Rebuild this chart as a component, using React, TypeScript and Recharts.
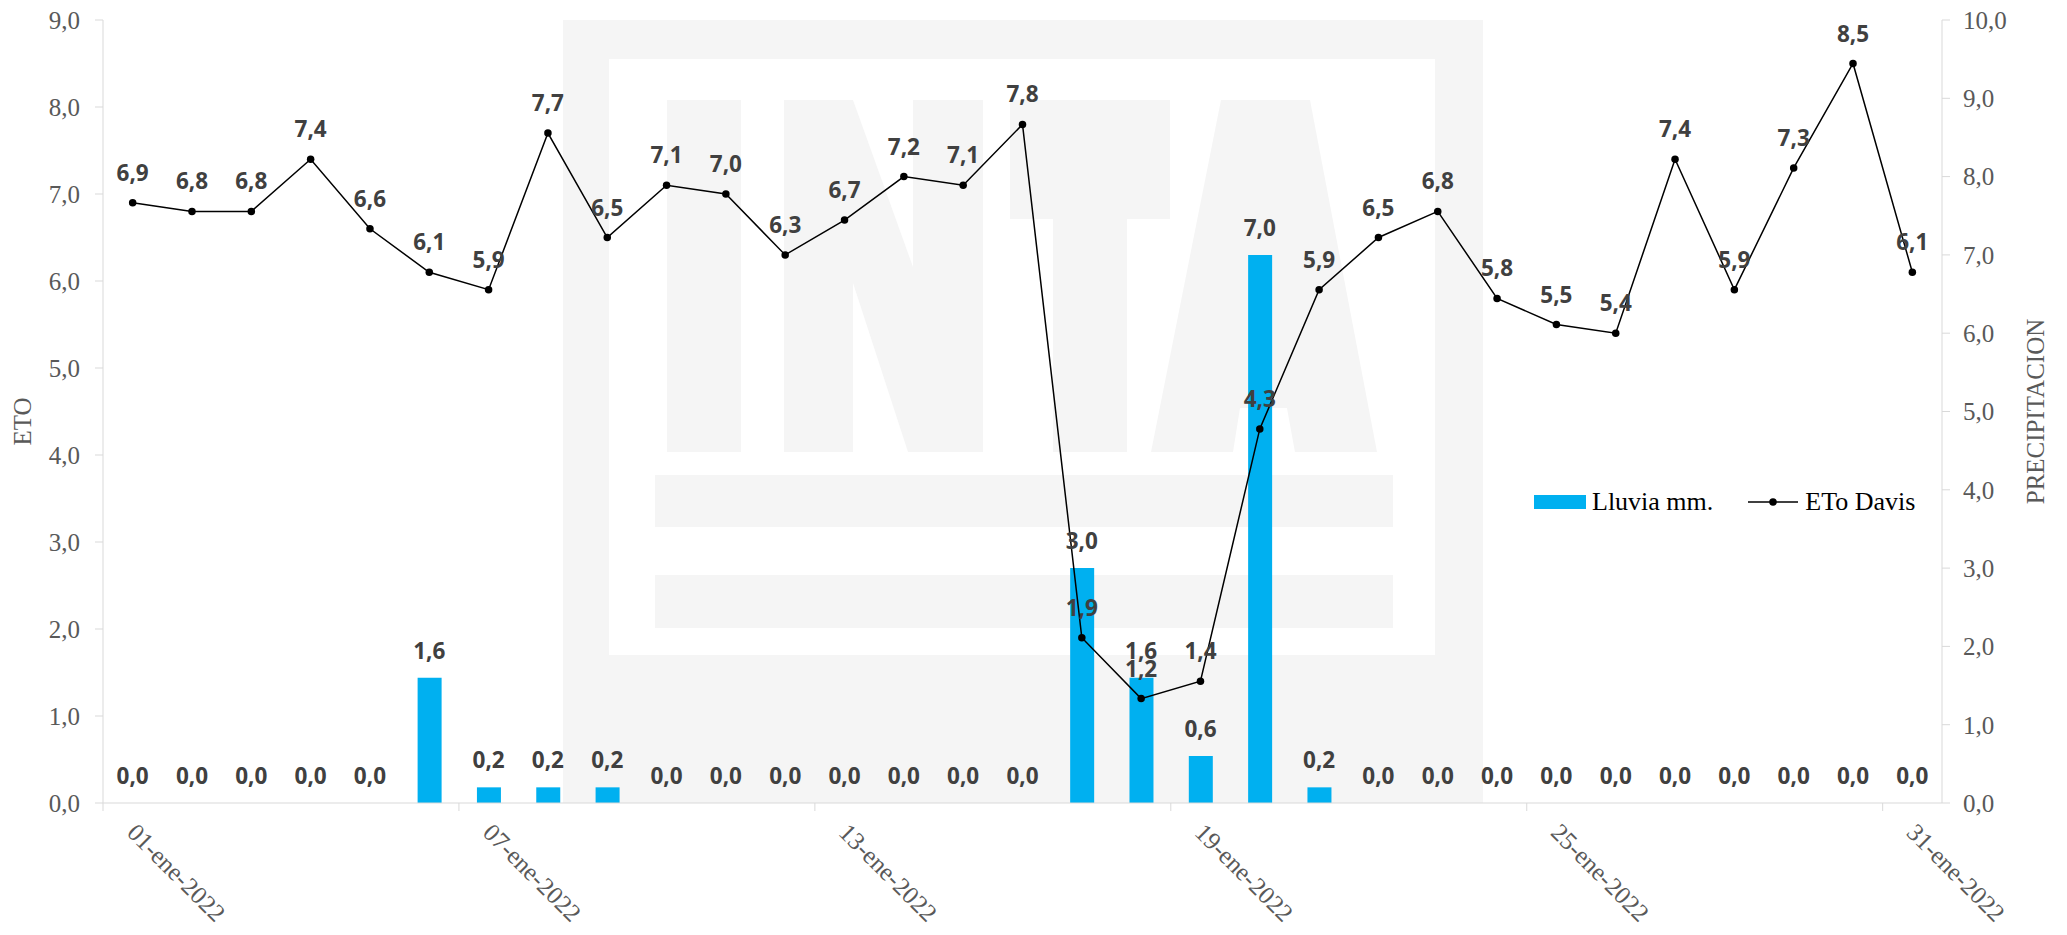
import React from 'react';
import {
  ComposedChart,
  Bar,
  Line,
  XAxis,
  YAxis,
  Legend,
  LabelList,
} from 'recharts';

// ---------- data ----------
const days: string[] = [
  '01-ene-2022', '02-ene-2022', '03-ene-2022', '04-ene-2022', '05-ene-2022', '06-ene-2022',
  '07-ene-2022', '08-ene-2022', '09-ene-2022', '10-ene-2022', '11-ene-2022', '12-ene-2022',
  '13-ene-2022', '14-ene-2022', '15-ene-2022', '16-ene-2022', '17-ene-2022', '18-ene-2022',
  '19-ene-2022', '20-ene-2022', '21-ene-2022', '22-ene-2022', '23-ene-2022', '24-ene-2022',
  '25-ene-2022', '26-ene-2022', '27-ene-2022', '28-ene-2022', '29-ene-2022', '30-ene-2022',
  '31-ene-2022',
];

const lluvia: number[] = [
  0, 0, 0, 0, 0, 1.6, 0.2, 0.2, 0.2, 0, 0, 0, 0, 0, 0, 0,
  3.0, 1.6, 0.6, 7.0, 0.2, 0, 0, 0, 0, 0, 0, 0, 0, 0, 0,
];

const etoDavis: number[] = [
  6.9, 6.8, 6.8, 7.4, 6.6, 6.1, 5.9, 7.7, 6.5, 7.1, 7.0, 6.3, 6.7, 7.2, 7.1, 7.8,
  1.9, 1.2, 1.4, 4.3, 5.9, 6.5, 6.8, 5.8, 5.5, 5.4, 7.4, 5.9, 7.3, 8.5, 6.1,
];

const etoTicks: number[] = [0, 1, 2, 3, 4, 5, 6, 7, 8, 9];
const precipTicks: number[] = [0, 1, 2, 3, 4, 5, 6, 7, 8, 9, 10];

const seriesNames = { lluvia: 'Lluvia mm.', eto: 'ETo Davis' };
const axisTitles = { left: 'ETO', right: 'PRECIPITACION' };

const tableData = days.map((d, i) => ({ day: d, lluvia: lluvia[i], eto: etoDavis[i] }));

// ---------- style ----------
const W = 2067;
const H = 935;
const BLUE = '#00B0F0';
const AXIS_GRAY = '#D9D9D9';
const TEXT_GRAY = '#595959';
const LABEL_GRAY = '#404040';
const SERIF = '"Liberation Serif", "Times New Roman", serif';
const SANS = '"Open Sans", "Noto Sans", sans-serif';
const WM = '#F5F5F5';

const fmt = (v: any) => Number(v).toFixed(1).replace('.', ',');

const makeLabel = (off: number) => (p: any) => {
  const x = Number(p.x);
  const y = Number(p.y);
  const w = Number(p.width) || 0;
  if (!isFinite(x) || !isFinite(y)) return null;
  return (
    <text
      x={x + w / 2}
      y={y - off}
      textAnchor="middle"
      fill={LABEL_GRAY}
      fontFamily={SANS}
      fontWeight={700}
      fontSize={22.5}
    >
      {fmt(p.value)}
    </text>
  );
};

const XTick = (p: any) => {
  const { x, y, payload } = p;
  const half = typeof payload?.offset === 'number' && payload.offset > 0 ? payload.offset : 29.66;
  return (
    <g>
      <line x1={x - half} x2={x - half} y1={y} y2={y + 8} stroke={AXIS_GRAY} strokeWidth={1} />
      <text
        transform={`translate(${x - 7},${y + 31}) rotate(45)`}
        textAnchor="start"
        fill={TEXT_GRAY}
        fontFamily={SERIF}
        fontSize={25}
      >
        {payload.value}
      </text>
    </g>
  );
};

const LeftTitle = (p: any) => {
  const vb = p.viewBox || { x: 0, y: 20, width: 103, height: 783 };
  const cx = vb.x + 22;
  const cy = vb.y + vb.height / 2 + 10;
  return (
    <text
      transform={`translate(${cx},${cy}) rotate(-90)`}
      textAnchor="middle"
      dominantBaseline="central"
      fill={TEXT_GRAY}
      fontFamily={SERIF}
      fontSize={25}
    >
      {axisTitles.left}
    </text>
  );
};

const RightTitle = (p: any) => {
  const vb = p.viewBox || { x: 1942, y: 20, width: 125, height: 783 };
  const cx = vb.x + 93;
  const cy = vb.y + vb.height / 2;
  return (
    <text
      transform={`translate(${cx},${cy}) rotate(-90)`}
      textAnchor="middle"
      dominantBaseline="central"
      fill={TEXT_GRAY}
      fontFamily={SERIF}
      fontSize={25}
    >
      {axisTitles.right}
    </text>
  );
};

const LegendContent = () => (
  <div
    style={{
      display: 'flex',
      alignItems: 'center',
      height: 44,
      fontFamily: SERIF,
      fontSize: 26,
      color: '#000',
      whiteSpace: 'nowrap',
    }}
  >
    <span style={{ display: 'inline-block', width: 52, height: 14, background: BLUE }} />
    <span style={{ marginLeft: 6 }}>{seriesNames.lluvia}</span>
    <svg width={50} height={14} style={{ marginLeft: 35 }}>
      <line x1={0} x2={50} y1={7} y2={7} stroke="#000" strokeWidth={1.5} />
      <circle cx={25} cy={7} r={3.75} fill="#000" />
    </svg>
    <span style={{ marginLeft: 7 }}>{seriesNames.eto}</span>
  </div>
);

const Watermark = () => (
  <svg
    width={W}
    height={H}
    style={{ position: 'absolute', left: 0, top: 0 }}
  >
    <rect x={563} y={20} width={920} height={783} fill={WM} />
    <rect x={609} y={59} width={826} height={596} fill="#fff" />
    {/* I */}
    <rect x={667} y={100} width={74} height={352} fill={WM} />
    {/* N */}
    <polygon
      points="784,100 853,100 913,267 913,100 983,100 983,452 908,452 853,283 853,452 784,452"
      fill={WM}
    />
    {/* T */}
    <rect x={1010} y={100} width={160} height={119} fill={WM} />
    <rect x={1053} y={219} width={74} height={233} fill={WM} />
    {/* A */}
    <polygon
      points="1221,100 1310,100 1377,452 1295,452 1287,408 1240,408 1233,452 1151,452"
      fill={WM}
    />
    {/* bars */}
    <rect x={655} y={475} width={738} height={52} fill={WM} />
    <rect x={655} y={575} width={738} height={53} fill={WM} />
  </svg>
);

export default function App() {
  return (
    <div style={{ position: 'absolute', left: 0, top: 0, width: W, height: H, background: '#fff' }}>
      <Watermark />
      <div style={{ position: 'absolute', left: 0, top: 0 }}>
        <ComposedChart
          width={W}
          height={H}
          data={tableData}
          margin={{ top: 20, right: 0, bottom: 0, left: 0 }}
          barSize={24}
        >
          <XAxis
            dataKey="day"
            interval={5}
            height={132}
            tickLine={false}
            tickSize={0}
            tickMargin={0}
            axisLine={{ stroke: AXIS_GRAY, strokeWidth: 1 }}
            tick={<XTick />}
          />
          <YAxis
            yAxisId="left"
            orientation="left"
            width={103}
            domain={[0, 9]}
            ticks={etoTicks}
            tickFormatter={fmt}
            tick={{ fill: TEXT_GRAY, fontSize: 25, fontFamily: SERIF }}
            tickLine={{ stroke: AXIS_GRAY }}
            axisLine={{ stroke: AXIS_GRAY }}
            tickSize={8}
            tickMargin={15}
            label={<LeftTitle />}
          />
          <YAxis
            yAxisId="right"
            orientation="right"
            width={125}
            domain={[0, 10]}
            ticks={precipTicks}
            tickFormatter={fmt}
            tick={{ fill: TEXT_GRAY, fontSize: 25, fontFamily: SERIF }}
            tickLine={{ stroke: AXIS_GRAY }}
            axisLine={{ stroke: AXIS_GRAY }}
            tickSize={8}
            tickMargin={13}
            label={<RightTitle />}
          />
          <Legend
            layout="horizontal"
            verticalAlign="middle"
            align="center"
            content={<LegendContent />}
            wrapperStyle={{ position: 'absolute', left: 1534, top: 480, width: 420, height: 44 }}
          />
          <Bar
            yAxisId="right"
            dataKey="lluvia"
            name={seriesNames.lluvia}
            fill={BLUE}
            isAnimationActive={false}
          />
          {/* invisible carrier for the rain labels, so that 0,0 values are labelled too */}
          <Line
            yAxisId="right"
            type="linear"
            dataKey="lluvia"
            stroke="none"
            dot={false}
            activeDot={false}
            legendType="none"
            isAnimationActive={false}
          >
            <LabelList dataKey="lluvia" content={makeLabel(19)} />
          </Line>
          <Line
            yAxisId="left"
            type="linear"
            dataKey="eto"
            name={seriesNames.eto}
            stroke="#000"
            strokeWidth={1.5}
            dot={{ r: 3.75, fill: '#000', stroke: '#000', strokeWidth: 0 }}
            activeDot={false}
            isAnimationActive={false}
          >
            <LabelList dataKey="eto" content={makeLabel(22)} />
          </Line>
        </ComposedChart>
      </div>
    </div>
  );
}
